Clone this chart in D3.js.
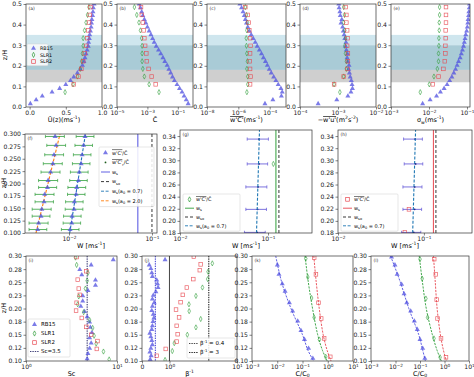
<!DOCTYPE html>
<html><head><meta charset="utf-8">
<script src="https://cdn.jsdelivr.net/npm/d3@7"></script>
<style>
body{margin:0;background:#fff}
svg{font-family:"DejaVu Sans",sans-serif}
.axis .domain{display:none}
.axis .tick line{stroke:#333;stroke-width:0.6}
.axis .tick text{fill:#222}
</style></head><body>
<svg id="fig" width="474" height="377"></svg>
<script>
// ---------- row 1 : profiles (a)-(e) ----------
const zRB = [0.016,0.035,0.053,0.072,0.090,0.109,0.128,0.146,0.165,0.183,0.202,0.221,0.239,0.258,0.276,0.295,0.314,0.332,0.351,0.369,0.388,0.407,0.425,0.444,0.462,0.481,0.500];
const zS1 = [0.072,0.110,0.148,0.185,0.222,0.260,0.297,0.334,0.372,0.410,0.447,0.485];
const zS2 = [0.110,0.148,0.185,0.222,0.260,0.297,0.334,0.372,0.410,0.447,0.485];

const uRB = [0.01,0.09,0.175,0.31,0.415,0.50,0.565,0.61,0.66,0.70,0.73,0.75,0.765,0.78,0.795,0.81,0.815,0.825,0.83,0.84,0.85,0.855,0.86,0.87,0.875,0.88,0.89];
const uS1 = [0.49,0.60,0.66,0.70,0.72,0.73,0.74,0.74,0.76,0.78,0.80,0.82];
const uS2 = [0.61,0.675,0.715,0.74,0.76,0.78,0.795,0.81,0.82,0.83,0.84];

const cRB = [4.8e-1,3.6e-1,2.6e-1,1.9e-1,1.3e-1,8.9e-2,6.0e-2,4.5e-2,3.4e-2,2.6e-2,2.0e-2,1.4e-2,1.05e-2,7.6e-3,5.4e-3,3.8e-3,2.8e-3,2.2e-3,1.7e-3,1.3e-3,1.0e-3,7.9e-4,6.3e-4,5.0e-4,4.2e-4,3.5e-4,2.9e-4];
const cS1 = [5.8e-3,1.3e-3,6.3e-4,5.0e-4,4.5e-4,4.5e-4,4.5e-4,4.2e-4,3.5e-4,2.8e-4,2.0e-4,1.4e-4];
const cS2 = [3.5e-3,1.9e-3,1.2e-3,9.1e-4,8.5e-4,7.1e-4,6.3e-4,5.6e-4,5.0e-4,4.3e-4,3.8e-4];

const wcRB = [5.0e-5,1.6e-4,5.6e-4,6.3e-4,5.2e-4,3.5e-4,2.5e-4,1.8e-4,1.26e-4,9.5e-5,7.1e-5,5.4e-5,4.0e-5,3.0e-5,2.2e-5,1.6e-5,1.2e-5,8.9e-6,6.6e-6,5.0e-6,4.0e-6,3.3e-6,2.8e-6,2.4e-6,2.0e-6,1.6e-6,1.26e-6];
const wcS1 = [3.5e-6,4.0e-6,4.0e-6,3.5e-6,3.8e-6,3.5e-6,3.3e-6,3.2e-6,3.5e-6,3.8e-6,3.3e-6,2.8e-6];
const wcS2 = [5.6e-6,6.0e-6,5.6e-6,5.2e-6,5.6e-6,6.0e-6,5.6e-6,5.0e-6,4.5e-6,4.0e-6,2.8e-6];

const wuRB = [3.0e-4,9.3e-4,1.82e-3,2.19e-3,2.40e-3,2.34e-3,2.24e-3,2.09e-3,2.00e-3,1.91e-3,1.95e-3,1.82e-3,1.74e-3,1.78e-3,1.66e-3,1.58e-3,1.62e-3,1.51e-3,1.45e-3,1.38e-3,1.32e-3,1.20e-3,1.26e-3,1.15e-3,1.12e-3,1.07e-3,1.05e-3];
const wuS1 = [1.12e-3,7.9e-4,1.41e-3,1.66e-3,1.66e-3,1.58e-3,1.51e-3,1.58e-3,1.51e-3,1.41e-3,1.48e-3,1.41e-3];
const wuS2 = [7.9e-4,1.41e-3,1.78e-3,1.82e-3,1.82e-3,1.74e-3,1.78e-3,1.74e-3,1.66e-3,1.66e-3,1.58e-3];

const sgRB = [6.8e-3,1.07e-2,1.58e-2,2.0e-2,2.5e-2,3.0e-2,3.5e-2,4.0e-2,4.5e-2,5.0e-2,5.5e-2,6.0e-2,6.6e-2,7.1e-2,7.6e-2,8.1e-2,8.5e-2,8.9e-2,9.3e-2,9.8e-2,1.02e-1,1.05e-1,1.07e-1,1.10e-1,1.12e-1,1.15e-1,1.17e-1];
const sgS1 = [5.9e-3,1.02e-2,1.35e-2,1.66e-2,1.78e-2,1.78e-2,1.82e-2,1.82e-2,1.86e-2,1.86e-2,1.9e-2,1.9e-2];
const sgS2 = [1.26e-2,1.78e-2,2.4e-2,2.6e-2,2.7e-2,2.7e-2,2.75e-2,2.75e-2,2.8e-2,2.8e-2,2.8e-2];

const bandZ = [[0.30,0.35],[0.18,0.30],[0.12,0.18]];
const bandColor = ["#cfe6ee","#a9cbd6","#cfcfcf"];

// ---------- row 2 : settling velocity (f)-(h) ----------
const fZ = [0.107,0.120,0.134,0.148,0.163,0.178,0.192,0.206,0.223,0.240,0.258,0.277,0.295];
const fA = [0.0042,0.0043,0.0046,0.0047,0.0050,0.0051,0.0055,0.0056,0.0060,0.0064,0.0066,0.0070,0.0068];
const fALo = [0.0033,0.0033,0.0036,0.0036,0.0039,0.0039,0.0043,0.0043,0.0046,0.0049,0.0051,0.0054,0.0052];
const fAHi = [0.0054,0.0056,0.0059,0.0061,0.0065,0.0066,0.0071,0.0073,0.0078,0.0083,0.0086,0.0091,0.0088];
const fB = [0.0103,0.0108,0.0109,0.0115,0.0116,0.0122,0.0124,0.0130,0.0133,0.0140,0.0144,0.0150,0.0156];
const fBLo = [0.0081,0.0085,0.0086,0.0090,0.0091,0.0096,0.0097,0.0102,0.0104,0.0110,0.0113,0.0118,0.0122];
const fBHi = [0.0132,0.0138,0.0140,0.0147,0.0148,0.0156,0.0159,0.0166,0.0170,0.0179,0.0184,0.0192,0.0200];
const fFitZ = [0.1,0.3];
const fFit20 = [0.0040,0.0078];
const fFit07 = [0.0102,0.0158];
const fWs = 0.0676, fWso = 0.100;

const ghZ = [0.335,0.294,0.256,0.219,0.181];
const gMid = [0.079,0.079,0.077,0.076,0.075];
const gLo = [0.058,0.058,0.056,0.056,0.054];
const gHi = [0.101,0.099,0.097,0.096,0.093];
const gFitZ = [0.18,0.35], gFit = [0.074,0.080];
const gWs = 0.123, gWso = 0.133;
const gPtZ = [0.294], gPt = [0.115];
const hMid = [0.079,0.080,0.078,0.078,0.076];
const hLo = [0.058,0.059,0.057,0.057,0.055];
const hHi = [0.096,0.097,0.095,0.094,0.092];
const hFit = [0.074,0.080];
const hWs = 0.129, hWso = 0.138;
const hPtZ = [0.219,0.181], hPt = [0.067,0.060];

// ---------- row 3 : (i)-(l) ----------
const row3TickZ = [0.10,0.125,0.15,0.175,0.20,0.225,0.25,0.275,0.30];
const row3TickLab = ["0.10","0.12","0.15","0.18","0.20","0.23","0.25","0.28","0.30"];

const iRBz = [0.293,0.283,0.274,0.264,0.254,0.244,0.234,0.224,0.214,0.204,0.194,0.184,0.174,0.164,0.154,0.144,0.134,0.124,0.114,0.104];
const iRB = [9.1,5.2,3.9,4.1,5.8,5.8,4.8,4.2,4.2,4.0,4.4,4.7,5.0,5.1,5.3,5.0,5.2,5.0,4.8,4.7];
const iS1z = [0.297,0.283,0.268,0.253,0.238,0.223,0.208,0.193,0.178,0.163,0.148,0.133,0.118,0.103];
const iS1 = [3.5,3.6,4.8,4.7,4.5,3.8,3.7,4.3,5.0,5.4,5.6,5.9,7.1,8.2];
const iS2z = [0.298,0.271,0.255,0.238,0.226,0.211,0.196,0.182,0.165,0.150,0.138,0.123];
const iS2 = [3.6,4.6,3.7,3.8,3.9,3.6,3.55,4.1,4.6,5.2,6.1,6.0];
const iSc = 4.7;

const jRBz = [0.293,0.283,0.276,0.268,0.261,0.254,0.247,0.240,0.232,0.225,0.218,0.211,0.204,0.196,0.189,0.182,0.175,0.167,0.160,0.153,0.146,0.139,0.131,0.124,0.117,0.110,0.103];
const jRB = [0.79,0.20,0.25,0.28,0.30,0.45,0.48,0.50,0.42,0.33,0.30,0.36,0.30,0.28,0.33,0.35,0.32,0.30,0.28,0.22,0.25,0.28,0.30,0.25,0.22,0.26,0.23];
const jS1z = [0.286,0.270,0.256,0.240,0.224,0.208,0.195,0.180,0.164,0.150,0.134,0.119,0.102];
const jS1 = [4.9,4.3,4.25,3.6,2.9,2.27,2.29,3.4,2.9,2.14,1.26,1.15,0.79];
const jS2z = [0.299,0.284,0.273,0.256,0.240,0.226,0.212,0.198,0.183,0.167,0.151,0.137,0.123,0.110];
const jS2 = [2.7,3.4,3.3,2.65,2.1,1.8,1.65,1.36,1.55,1.40,1.46,1.40,0.82,0.45];
const jBeta = [0.4,1.0,4.4];

const kRBz = [0.283,0.265,0.247,0.233,0.211,0.195,0.176,0.158,0.141,0.124,0.105];
const kRB = [0.0101,0.0117,0.0158,0.0204,0.0302,0.0407,0.0646,0.0871,0.120,0.174,0.257];
const kS1z = [0.295,0.260,0.220,0.183,0.141,0.108];
const kS1 = [0.135,0.162,0.229,0.288,0.468,0.83];
const kS2z = [0.297,0.265,0.211,0.181,0.143,0.108];
const kS2 = [0.29,0.34,0.43,0.55,0.72,1.26];
const fitZ = [0.30,0.25,0.20,0.15,0.12,0.10];
const kFitRB = [0.0087,0.015,0.035,0.10,0.166,0.275];
const kFitS1 = [0.126,0.17,0.25,0.40,0.62,0.95];
const kFitS2 = [0.28,0.35,0.46,0.66,0.95,1.35];

const lRBz = [0.298,0.283,0.265,0.246,0.228,0.211,0.195,0.176,0.160,0.141,0.124,0.105];
const lRB = [0.0069,0.0095,0.0117,0.0178,0.0224,0.0288,0.0417,0.0589,0.0776,0.100,0.129,0.158];
const lS1z = [0.294,0.257,0.219,0.183,0.143,0.107];
const lS1 = [0.100,0.123,0.174,0.204,0.372,0.66];
const lS2z = [0.294,0.265,0.217,0.181,0.143,0.107];
const lS2 = [0.38,0.44,0.48,0.52,0.72,1.15];
const lFitRB = [0.0063,0.0158,0.035,0.089,0.13,0.166];
const lFitS1 = [0.093,0.126,0.18,0.32,0.50,0.74];
const lFitS2 = [0.355,0.42,0.50,0.68,0.91,1.2];

// ---------- drawing ----------
const BLUE = "#4f4fe0", GREEN = "#2f9e3a", RED = "#e8464f", ORANGE = "#ff7f0e";
const TICK_FS = 6.1;
const svg = d3.select("#fig");
const defs = svg.append("defs");
const POW = "pow";
let clipN = 0;

function panel(o) {
  const x = (o.xType === "log" ? d3.scaleLog() : o.xType === "symlog" ? d3.scaleSymlog().constant(1) : d3.scaleLinear())
    .domain(o.xDomain).range([o.left, o.right]);
  const y = d3.scaleLinear().domain(o.yDomain).range([o.bottom, o.top]);
  const id = "clip" + (clipN++);
  defs.append("clipPath").attr("id", id).append("rect")
    .attr("x", o.left).attr("y", o.top).attr("width", o.right - o.left).attr("height", o.bottom - o.top);
  const g = svg.append("g");
  const plot = g.append("g").attr("clip-path", "url(#" + id + ")");
  const xa = d3.axisBottom(x).tickValues(o.xTicks).tickSize(2.5).tickPadding(1.5);
  xa.tickFormat(o.xFmt === POW ? () => "" : o.xFmt);
  const gx = g.append("g").attr("class", "axis").attr("transform", "translate(0," + o.bottom + ")")
    .call(xa).attr("font-size", TICK_FS).attr("font-family", null);
  if (o.xFmt === POW) {
    // 10^n labels written as 10 plus a raised exponent
    gx.selectAll(".tick text").each(function(d) {
      const t = d3.select(this);
      if (d === 0) { t.text("0"); return; }
      const e = Math.round(Math.log10(d));
      rich(t, ["10", {t: String(e).replace("-", "\u2212"), sup: true}], TICK_FS);
    });
  }
  const ya = d3.axisLeft(y).tickValues(o.yTicks).tickSize(2.5).tickPadding(1.5);
  if (o.yLabels) ya.tickFormat((d, i) => o.yLabels[i]); else ya.tickFormat(o.yFmt);
  g.append("g").attr("class", "axis").attr("transform", "translate(" + o.left + ",0)")
    .call(ya).attr("font-size", TICK_FS).attr("font-family", null);
  const p = {x, y, g, plot, o};
  p.frame = () => {
    g.append("rect").attr("x", o.left).attr("y", o.top)
      .attr("width", o.right - o.left).attr("height", o.bottom - o.top)
      .attr("fill", "none").attr("stroke", "#333").attr("stroke-width", 0.7);
    g.append("text").attr("x", o.left + 2.5).attr("y", o.top + 5.5)
      .attr("font-size", 4.5).attr("fill", "#333").text(o.tag);
    if (o.xLabel) rich(g.append("text").attr("x", (o.left + o.right) / 2).attr("y", o.labelY)
      .attr("text-anchor", "middle").attr("font-size", 6.5), o.xLabel, 6.5);
  };
  return p;
}

function rich(text, segs, fs) {
  let off = 0;
  segs.forEach(s => {
    const o = typeof s === "string" ? {t: s} : s;
    const shift = o.sub ? 0.3 * fs : o.sup ? -0.4 * fs : 0;
    const t = text.append("tspan").text(o.t);
    if (shift - off) t.attr("dy", shift - off);
    off = shift;
    if (o.sub || o.sup) t.attr("font-size", fs * 0.7);
    if (o.o) t.style("text-decoration", "overline");
  });
}

const symTri = d3.symbol(d3.symbolTriangle, 11)();
const symDia = "M0,-2.6L1.3,0L0,2.6L-1.3,0Z";
function marks(p, xs, zs, kind, color, parent) {
  const sel = (parent || p.plot).selectAll(null).data(d3.zip(xs, zs)).join(kind === "sq" ? "rect" : "path");
  if (kind === "sq") {
    sel.attr("x", d => p.x(d[0]) - 1.8).attr("y", d => p.y(d[1]) - 1.8).attr("width", 3.6).attr("height", 3.6)
      .attr("fill", "none").attr("stroke", color).attr("stroke-width", 0.7).attr("stroke-opacity", 0.85);
  } else if (kind === "tri") {
    sel.attr("d", symTri).attr("transform", d => "translate(" + p.x(d[0]) + "," + p.y(d[1]) + ")")
      .attr("fill", color).attr("fill-opacity", 0.75);
  } else {
    sel.attr("d", symDia).attr("transform", d => "translate(" + p.x(d[0]) + "," + p.y(d[1]) + ")")
      .attr("fill", "none").attr("stroke", color).attr("stroke-width", 0.7).attr("stroke-opacity", 0.85);
  }
}
function vline(p, v, color, dash, w) {
  p.plot.append("line").attr("x1", p.x(v)).attr("x2", p.x(v)).attr("y1", p.o.top).attr("y2", p.o.bottom)
    .attr("stroke", color).attr("stroke-width", w || 0.9).attr("stroke-dasharray", dash);
}
function curve(p, xs, zs, color, dash, w) {
  p.plot.append("path").datum(d3.zip(xs, zs))
    .attr("d", d3.line().x(d => p.x(d[0])).y(d => p.y(d[1])).curve(d3.curveCatmullRom))
    .attr("fill", "none").attr("stroke", color).attr("stroke-width", w || 0.9).attr("stroke-dasharray", dash);
}
function errbars(p, zs, lo, hi, color) {
  zs.forEach((z, i) => {
    const yy = p.y(z);
    p.plot.append("line").attr("x1", p.x(lo[i])).attr("x2", p.x(hi[i])).attr("y1", yy).attr("y2", yy)
      .attr("stroke", color).attr("stroke-width", 0.8);
    [lo[i], hi[i]].forEach(v => p.plot.append("line").attr("x1", p.x(v)).attr("x2", p.x(v))
      .attr("y1", yy - 1.6).attr("y2", yy + 1.6).attr("stroke", color).attr("stroke-width", 0.7));
  });
}
function legend(p, x0, y0, w, rowH, fs, items) {
  const lg = p.g.append("g");
  lg.append("rect").attr("x", x0).attr("y", y0).attr("width", w).attr("height", items.length * rowH + 2)
    .attr("fill", "#fff").attr("fill-opacity", 0.85).attr("stroke", "#ccc").attr("stroke-width", 0.5).attr("rx", 1);
  items.forEach((it, i) => {
    const cy = y0 + 1 + rowH * (i + 0.5);
    if (it.line) lg.append("line").attr("x1", x0 + 2).attr("x2", x0 + 11).attr("y1", cy).attr("y2", cy)
      .attr("stroke", it.line).attr("stroke-width", 0.9).attr("stroke-dasharray", it.dash);
    if (it.m === "tri") lg.append("path").attr("d", symTri).attr("transform", "translate(" + (x0 + 6.5) + "," + cy + ")")
      .attr("fill", it.c).attr("fill-opacity", 0.75);
    if (it.m === "dia") lg.append("path").attr("d", symDia).attr("transform", "translate(" + (x0 + 6.5) + "," + cy + ")")
      .attr("fill", "none").attr("stroke", it.c).attr("stroke-width", 0.7);
    if (it.m === "sq") lg.append("rect").attr("x", x0 + 4.7).attr("y", cy - 1.8).attr("width", 3.6).attr("height", 3.6)
      .attr("fill", "none").attr("stroke", it.c).attr("stroke-width", 0.7);
    if (it.m === "dot") lg.append("circle").attr("cx", x0 + 6.5).attr("cy", cy).attr("r", 0.9).attr("fill", it.c);
    rich(lg.append("text").attr("x", x0 + 13).attr("y", cy).attr("dy", fs * 0.35).attr("font-size", fs), it.label, fs);
  });
}
function ylab(x, y, t) {
  svg.append("text").attr("transform", "translate(" + x + "," + y + ") rotate(-90)")
    .attr("text-anchor", "middle").attr("font-size", 6.5).text(t);
}

// ----- row 1 -----
const r1 = {top: 4, bottom: 107, yDomain: [0, 0.5], yTicks: [0, 0.1, 0.2, 0.3, 0.4, 0.5], yFmt: d3.format(".1f"), labelY: 122};
const row1 = [
  {tag: "(a)", left: 26, right: 102, xType: "lin", xDomain: [-0.05, 1.0], xTicks: [0, 0.5, 1.0], xFmt: d3.format(".1f"),
   xLabel: ["U\u0304(z)(ms", {t: "-1", sup: true}, ")"], data: [uRB, uS1, uS2]},
  {tag: "(b)", left: 117, right: 193, xType: "log", xDomain: [1e-5, 1], xTicks: [1e-5, 1e-3, 1e-1], xFmt: POW,
   xLabel: ["C\u0304"], data: [cRB, cS1, cS2]},
  {tag: "(c)", left: 207, right: 286, xType: "log", xDomain: [1e-8, 1.1e-3], xTicks: [1e-8, 1e-6, 1e-4], xFmt: POW,
   xLabel: [{t: "w'C'", o: true}, "(ms", {t: "-1", sup: true}, ")"], data: [wcRB, wcS1, wcS2]},
  {tag: "(d)", left: 300, right: 376, xType: "log", xDomain: [1e-4, 1e-2], xTicks: [1e-4, 1e-3, 1e-2], xFmt: POW,
   xLabel: ["\u2212", {t: "w'u'", o: true}, "(m", {t: "2", sup: true}, "s", {t: "-2", sup: true}, ")"], data: [wuRB, wuS1, wuS2]},
  {tag: "(e)", left: 391, right: 470, xType: "log", xDomain: [1e-3, 1.2e-1], xTicks: [1e-3, 1e-2, 1e-1], xFmt: POW,
   xLabel: ["\u03c3", {t: "w", sub: true}, "(ms", {t: "-1", sup: true}, ")"], data: [sgRB, sgS1, sgS2]}
];
row1.forEach((c, k) => {
  const p = panel(Object.assign({}, r1, c));
  bandZ.forEach((b, i) => p.plot.append("rect").attr("x", c.left).attr("width", c.right - c.left)
    .attr("y", p.y(b[1])).attr("height", p.y(b[0]) - p.y(b[1])).attr("fill", bandColor[i]));
  marks(p, c.data[0], zRB, "tri", BLUE);
  marks(p, c.data[1], zS1, "dia", GREEN);
  marks(p, c.data[2], zS2, "sq", RED);
  p.frame();
  if (k === 0) legend(p, 27, 44, 21, 6.6, 4.8, [
    {m: "tri", c: BLUE, label: ["RB15"]}, {m: "dia", c: GREEN, label: ["SLR1"]}, {m: "sq", c: RED, label: ["SLR2"]}]);
});
ylab(7, 55, "z/H");

// ----- row 2 -----
const wLab = ["W [ms", {t: "-1", sup: true}, "]"];
const pf = panel({tag: "(f)", left: 25, right: 157, top: 134, bottom: 233, xType: "log", xDomain: [0.00295, 0.115],
  xTicks: [0.01, 0.1], xFmt: POW, yDomain: [0.1, 0.3], yTicks: d3.range(0.1, 0.3001, 0.025), yFmt: d3.format(".3f"),
  labelY: 248, xLabel: wLab});
vline(pf, fWs, BLUE, null, 1);
vline(pf, fWso, "#222", "3,2");
curve(pf, fFit20, fFitZ, ORANGE, "3,1.6", 1.1);
curve(pf, fFit07, fFitZ, "#1f77b4", "3,1.6", 1.1);
errbars(pf, fZ, fALo, fAHi, GREEN);
errbars(pf, fZ, fBLo, fBHi, GREEN);
marks(pf, fA, fZ, "tri", BLUE);
marks(pf, fB, fZ, "tri", BLUE);
pf.frame();
legend(pf, 99, 147, 55, 9.6, 5, [
  {m: "tri", c: BLUE, label: [{t: "w'C'", o: true}, "/C\u0304"]},
  {m: "dot", c: "#1a5a1a", label: [{t: "w'C'", o: true}, {t: "r", sub: true}, "/C\u0304"]},
  {line: BLUE, label: ["w", {t: "s", sub: true}]},
  {line: "#222", dash: "3,2", label: ["w", {t: "so", sub: true}]},
  {line: "#1f77b4", dash: "3,1.6", label: ["w", {t: "s", sub: true}, "(a", {t: "0", sub: true}, " = 0.7)"]},
  {line: ORANGE, dash: "3,1.6", label: ["w", {t: "s", sub: true}, "(a", {t: "0", sub: true}, " = 2.0)"]}]);
ylab(5.5, 183, "z/H");

function ghPanel(tag, left, right, xMax, mid, lo, hi, fit, ws, wso, wsColor, ptZ, pt, ptKind) {
  const p = panel({tag, left, right, top: 130, bottom: 233, xType: "log", xDomain: [0.01, xMax], xTicks: [0.01, 0.1],
    xFmt: POW, yDomain: [0.18, 0.35], yTicks: d3.range(0.18, 0.3401, 0.02), yFmt: d3.format(".2f"), labelY: 248, xLabel: wLab});
  vline(p, ws, wsColor, null, 1);
  vline(p, wso, "#222", "3,2");
  errbars(p, ghZ, lo, hi, "#5b4fd6");
  p.plot.selectAll(null).data(d3.zip(mid, ghZ)).join("circle")
    .attr("cx", d => p.x(d[0])).attr("cy", d => p.y(d[1])).attr("r", 0.9).attr("fill", "#23238a");
  curve(p, fit, gFitZ, "#1f77b4", "3,1.6", 1.1);
  marks(p, pt, ptZ, ptKind, wsColor);
  p.frame();
  legend(p, left + 3, 194, 57, 8.8, 5, [
    {m: ptKind, c: wsColor, label: [{t: "w'C'", o: true}, "/C\u0304"]},
    {line: wsColor, label: ["w", {t: "s", sub: true}]},
    {line: "#222", dash: "3,2", label: ["w", {t: "so", sub: true}]},
    {line: "#1f77b4", dash: "3,1.6", label: ["w", {t: "s", sub: true}, "(a", {t: "0", sub: true}, " = 0.7)"]}]);
}
ghPanel("(g)", 180, 312, 0.316, gMid, gLo, gHi, gFit, gWs, gWso, GREEN, gPtZ, gPt, "dia");
ghPanel("(h)", 338, 472, 0.363, hMid, hLo, hHi, hFit, hWs, hWso, RED, hPtZ, hPt, "sq");

// ----- row 3 -----
const r3 = {top: 256, bottom: 361, yDomain: [0.1, 0.3], yTicks: row3TickZ, yLabels: row3TickLab, labelY: 375.5};
const pi = panel(Object.assign({}, r3, {tag: "(i)", left: 26, right: 117, xType: "log", xDomain: [1, 10], xTicks: [1, 10],
  xFmt: POW, xLabel: ["Sc"]}));
vline(pi, iSc, "#2a2a6a", "1.4,1", 1);
marks(pi, iRB, iRBz, "tri", BLUE);
marks(pi, iS1, iS1z, "dia", GREEN);
marks(pi, iS2, iS2z, "sq", RED);
pi.frame();
legend(pi, 28, 319, 42, 9, 5.5, [
  {m: "tri", c: BLUE, label: ["RB15"]}, {m: "dia", c: GREEN, label: ["SLR1"]}, {m: "sq", c: RED, label: ["SLR2"]},
  {line: "#2a2a6a", dash: "1.4,1", label: ["Sc=3.5"]}]);
ylab(6, 308, "z/H");

const pj = panel(Object.assign({}, r3, {tag: "(j)", left: 142, right: 237, xType: "symlog", xDomain: [0, 10], xTicks: [0, 1, 10],
  xFmt: POW, xLabel: ["\u03b2", {t: "-1", sup: true}]}));
vline(pj, jBeta[0], "#3a3ad0", "1.4,1", 1);
vline(pj, jBeta[1], "#444", null, 1);
vline(pj, jBeta[2], "#111", "1.4,1", 1);
marks(pj, jRB, jRBz, "tri", BLUE);
marks(pj, jS1, jS1z, "dia", GREEN);
marks(pj, jS2, jS2z, "sq", RED);
pj.frame();
legend(pj, 187, 338, 48, 9, 5.5, [
  {line: "#333", dash: "1.4,1", label: ["\u03b2", {t: "-1", sup: true}, " = 0.4"]},
  {line: "#111", dash: "1.4,1", label: ["\u03b2", {t: "-1", sup: true}, " = 3"]}]);

[["(k)", 252, 353, kRB, kRBz, kS1, kS1z, kS2, kS2z, kFitRB, kFitS1, kFitS2],
 ["(l)", 371, 469, lRB, lRBz, lS1, lS1z, lS2, lS2z, lFitRB, lFitS1, lFitS2]].forEach(c => {
  const p = panel(Object.assign({}, r3, {tag: c[0], left: c[1], right: c[2], xType: "log", xDomain: [1e-3, 10],
    xTicks: [1e-3, 1e-2, 1e-1, 1, 10], xFmt: POW, xLabel: ["C/C", {t: "0", sub: true}]}));
  curve(p, c[9], fitZ, BLUE, "2.2,1.2", 0.9);
  curve(p, c[10], fitZ, GREEN, "2.2,1.2", 0.9);
  curve(p, c[11], fitZ, RED, "2.2,1.2", 0.9);
  marks(p, c[3], c[4], "tri", BLUE);
  marks(p, c[5], c[6], "dia", GREEN);
  marks(p, c[7], c[8], "sq", RED);
  p.frame();
});
</script>
</body></html>
